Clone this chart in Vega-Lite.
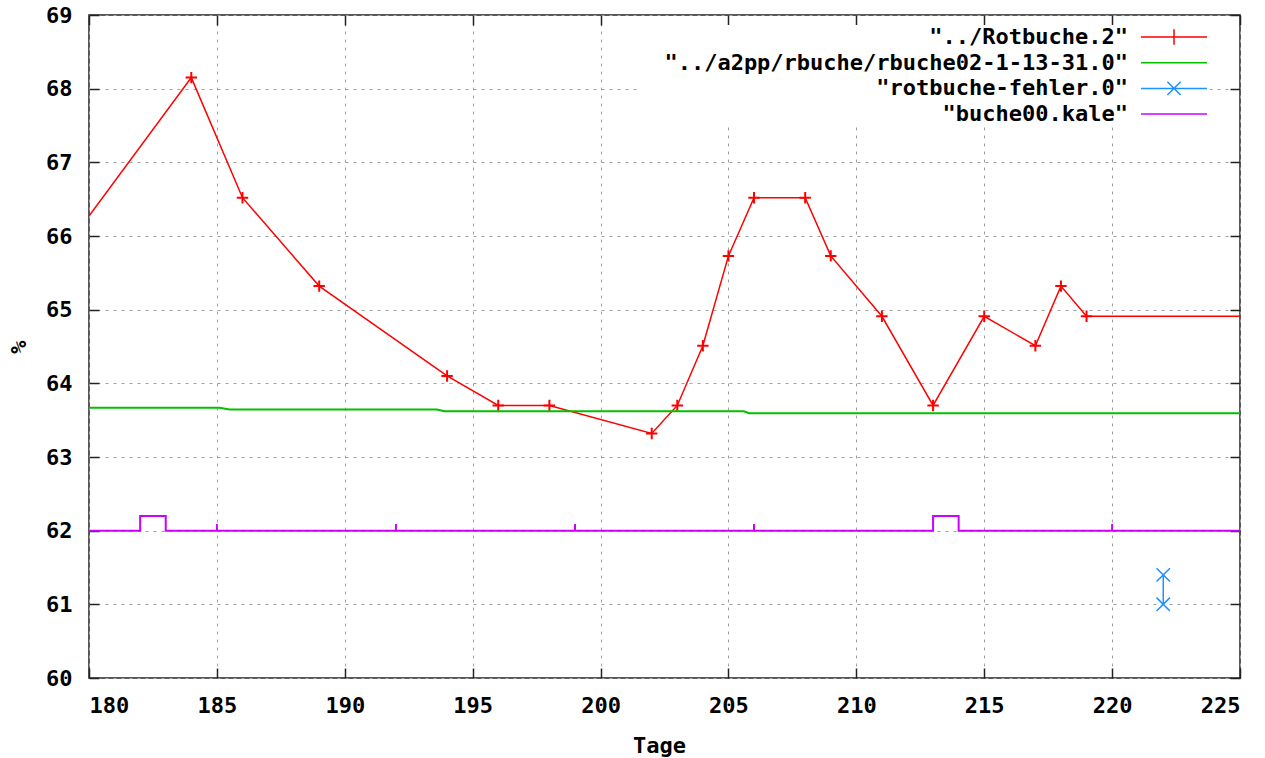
{
  "$schema": "https://vega.github.io/schema/vega-lite/v6.json",
  "width": 1151,
  "height": 663,
  "autosize": {"type": "none"},
  "padding": {"left": 89, "top": 15, "right": 25, "bottom": 80},
  "background": "white",
  "config": {
    "font": "DejaVu Sans Mono",
    "view": {"stroke": "#222222", "strokeWidth": 1.5},
    "axis": {
      "labelFont": "DejaVu Sans Mono",
      "labelFontSize": 22,
      "labelFontWeight": "bold",
      "labelColor": "#000000",
      "titleFont": "DejaVu Sans Mono",
      "titleFontSize": 22,
      "titleFontWeight": "bold",
      "titleColor": "#000000",
      "gridColor": "#a0a0a0",
      "gridDash": [3, 5],
      "gridWidth": 1,
      "gridOpacity": 1,
      "tickColor": "#222222",
      "tickWidth": 1.5,
      "tickSize": -10,
      "domain": false
    },
    "legend": {
      "padding": 0,
      "fillColor": "white",
      "labelFont": "DejaVu Sans Mono",
      "labelFontSize": 22,
      "labelFontWeight": "bold",
      "labelColor": "#000000",
      "labelBaseline": "middle",
      "labelLimit": 0,
      "rowPadding": 2.7,
      "symbolSize": 484,
      "symbolStrokeWidth": 1.5,
      "symbolFillColor": "transparent"
    }
  },
  "datasets": {
    "rotbuche": [
      {"tag": 180, "pct": 66.27},
      {"tag": 184, "pct": 68.15},
      {"tag": 186, "pct": 66.52},
      {"tag": 189, "pct": 65.32},
      {"tag": 194, "pct": 64.10},
      {"tag": 196, "pct": 63.70},
      {"tag": 198, "pct": 63.70},
      {"tag": 202, "pct": 63.32},
      {"tag": 203, "pct": 63.70},
      {"tag": 204, "pct": 64.51},
      {"tag": 205, "pct": 65.73},
      {"tag": 206, "pct": 66.52},
      {"tag": 208, "pct": 66.52},
      {"tag": 209, "pct": 65.73},
      {"tag": 211, "pct": 64.91},
      {"tag": 213, "pct": 63.70},
      {"tag": 215, "pct": 64.91},
      {"tag": 217, "pct": 64.51},
      {"tag": 218, "pct": 65.32},
      {"tag": 219, "pct": 64.91},
      {"tag": 225, "pct": 64.91}
    ],
    "rbuche": [
      {"tag": 180, "pct": 63.67},
      {"tag": 185.1, "pct": 63.67},
      {"tag": 185.5, "pct": 63.645},
      {"tag": 193.6, "pct": 63.645},
      {"tag": 193.9, "pct": 63.62},
      {"tag": 205.6, "pct": 63.62},
      {"tag": 205.8, "pct": 63.595},
      {"tag": 225, "pct": 63.595}
    ],
    "fehler": [
      {"tag": 222, "pct": 61.0},
      {"tag": 222, "pct": 61.4}
    ],
    "kale": [
      {"tag": 180, "pct": 62.0},
      {"tag": 182, "pct": 62.2},
      {"tag": 183, "pct": 62.0},
      {"tag": 213, "pct": 62.2},
      {"tag": 214, "pct": 62.0},
      {"tag": 225, "pct": 62.0}
    ],
    "kaleTicks": [
      {"tag": 185, "lo": 62.0, "hi": 62.09},
      {"tag": 192, "lo": 62.0, "hi": 62.09},
      {"tag": 199, "lo": 62.0, "hi": 62.09},
      {"tag": 206, "lo": 62.0, "hi": 62.09},
      {"tag": 220, "lo": 62.0, "hi": 62.09}
    ]
  },
  "layer": [
    {
      "data": {"name": "rotbuche"},
      "mark": {"type": "line", "strokeWidth": 1.5, "clip": true},
      "encoding": {
        "x": {
          "field": "tag", "type": "quantitative",
          "scale": {"domain": [180, 225], "nice": false, "zero": false},
          "axis": {
            "title": "Tage",
            "values": [180, 185, 190, 195, 200, 205, 210, 215, 220, 225],
            "labelPadding": 27,
            "titleY": 67,
            "titleX": 570,
            "titleBaseline": "middle",
            "grid": true
          }
        },
        "y": {
          "field": "pct", "type": "quantitative",
          "scale": {"domain": [60, 69], "nice": false, "zero": false},
          "axis": {
            "title": "%",
            "values": [60, 61, 62, 63, 64, 65, 66, 67, 68, 69],
            "labelPadding": 27,
            "titleX": -71,
            "titleAngle": -90,
            "titleBaseline": "middle",
            "titleAlign": "center",
            "grid": true
          }
        },
        "color": {
          "datum": "../Rotbuche.2",
          "type": "nominal",
          "scale": {
            "domain": ["../Rotbuche.2", "../a2pp/rbuche/rbuche02-1-13-31.0", "rotbuche-fehler.0", "buche00.kale"],
            "range": ["#ff0000", "#00c000", "#1e90ff", "#cc00ff"]
          },
          "legend": {
            "title": null,
            "orient": "none",
            "legendX": 552,
            "legendY": 10,
            "symbolOffset": 521,
            "labelOffset": -58,
            "labelAlign": "right",
            "labelExpr": "'\"' + datum.label + '\"'",
            "encode": {
              "symbols": {
                "update": {
                  "shape": {"signal": "datum.value === '../Rotbuche.2' ? 'M-3,0H3M0,-0.7V0.7' : datum.value === 'rotbuche-fehler.0' ? 'M-3,0H3M-0.6,-0.6L0.6,0.6M-0.6,0.6L0.6,-0.6' : 'M-3,0H3'"},
                  "strokeWidth": {"value": 1.5},
                  "fill": {"value": "transparent"}
                }
              }
            }
          }
        }
      }
    },
    {
      "data": {"name": "rotbuche"},
      "transform": [{"filter": "datum.tag > 180 && datum.tag < 225"}],
      "mark": {"type": "point", "shape": "M-1,0H1M0,-1V1", "filled": false, "size": 130, "strokeWidth": 2, "opacity": 1},
      "encoding": {
        "x": {
          "field": "tag", "type": "quantitative",
          "scale": {"domain": [180, 225], "nice": false, "zero": false},
          "axis": {
            "orient": "top", "title": null, "labels": false, "grid": false,
            "values": [180, 185, 190, 195, 200, 205, 210, 215, 220, 225]
          }
        },
        "y": {
          "field": "pct", "type": "quantitative",
          "scale": {"domain": [60, 69], "nice": false, "zero": false},
          "axis": {
            "orient": "right", "title": null, "labels": false, "grid": false,
            "values": [60, 61, 62, 63, 64, 65, 66, 67, 68, 69]
          }
        },
        "color": {"datum": "../Rotbuche.2", "type": "nominal", "legend": null}
      }
    },
    {
      "data": {"name": "rbuche"},
      "mark": {"type": "line", "strokeWidth": 2},
      "encoding": {
        "x": {"field": "tag", "type": "quantitative", "scale": {"domain": [180, 225], "nice": false, "zero": false}, "axis": null},
        "y": {"field": "pct", "type": "quantitative", "scale": {"domain": [60, 69], "nice": false, "zero": false}, "axis": null},
        "color": {"datum": "../a2pp/rbuche/rbuche02-1-13-31.0", "type": "nominal", "legend": null}
      }
    },
    {
      "data": {"name": "fehler"},
      "mark": {"type": "line", "strokeWidth": 1.5},
      "encoding": {
        "x": {"field": "tag", "type": "quantitative", "scale": {"domain": [180, 225], "nice": false, "zero": false}, "axis": null},
        "y": {"field": "pct", "type": "quantitative", "scale": {"domain": [60, 69], "nice": false, "zero": false}, "axis": null},
        "color": {"datum": "rotbuche-fehler.0", "type": "nominal", "legend": null}
      }
    },
    {
      "data": {"name": "fehler"},
      "mark": {"type": "point", "shape": "M-1,-1L1,1M-1,1L1,-1", "filled": false, "size": 180, "strokeWidth": 1.5, "opacity": 1},
      "encoding": {
        "x": {"field": "tag", "type": "quantitative", "scale": {"domain": [180, 225], "nice": false, "zero": false}, "axis": null},
        "y": {"field": "pct", "type": "quantitative", "scale": {"domain": [60, 69], "nice": false, "zero": false}, "axis": null},
        "color": {"datum": "rotbuche-fehler.0", "type": "nominal", "legend": null}
      }
    },
    {
      "data": {"name": "kale"},
      "mark": {"type": "line", "strokeWidth": 2, "interpolate": "step-after"},
      "encoding": {
        "x": {"field": "tag", "type": "quantitative", "scale": {"domain": [180, 225], "nice": false, "zero": false}, "axis": null},
        "y": {"field": "pct", "type": "quantitative", "scale": {"domain": [60, 69], "nice": false, "zero": false}, "axis": null},
        "color": {"datum": "buche00.kale", "type": "nominal", "legend": null}
      }
    },
    {
      "data": {"name": "kaleTicks"},
      "mark": {"type": "rule", "strokeWidth": 2},
      "encoding": {
        "x": {"field": "tag", "type": "quantitative", "scale": {"domain": [180, 225], "nice": false, "zero": false}, "axis": null},
        "y": {"field": "lo", "type": "quantitative", "scale": {"domain": [60, 69], "nice": false, "zero": false}, "axis": null},
        "y2": {"field": "hi"},
        "color": {"datum": "buche00.kale", "type": "nominal", "legend": null}
      }
    }
  ],
  "resolve": {"axis": {"x": "independent", "y": "independent"}}
}
